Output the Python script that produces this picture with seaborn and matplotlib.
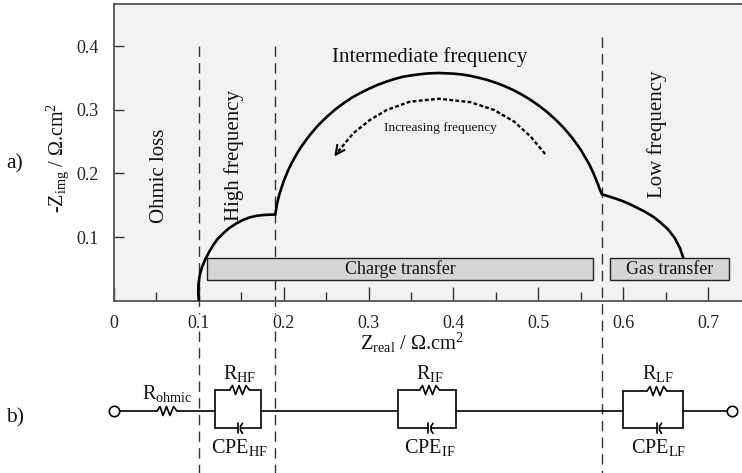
import matplotlib
matplotlib.use('Agg')
import matplotlib.pyplot as plt
import seaborn as sns
import pandas as pd

sns.set_style('white')
plt.rcParams['font.family'] = ['Liberation Serif', 'DejaVu Serif']
plt.rcParams['mathtext.fontset'] = 'custom'
plt.rcParams['mathtext.rm'] = 'Liberation Serif'
plt.rcParams['mathtext.default'] = 'rm'

# Nyquist arcs
hf_x = [0.1, 0.0992, 0.0995, 0.101, 0.1035, 0.1072, 0.112, 0.117, 0.122, 0.1288, 0.136, 0.1445, 0.152, 0.1602,
        0.168, 0.1759, 0.183, 0.19]
hf_y = [0, 0.012, 0.025, 0.04, 0.052, 0.064, 0.0765, 0.0876, 0.097, 0.106, 0.1145, 0.1217, 0.127, 0.1311,
        0.1335, 0.1347, 0.1352, 0.1355]
if_x = [0.19, 0.192, 0.195, 0.2, 0.205, 0.21, 0.215, 0.22, 0.23, 0.24, 0.25, 0.26, 0.27, 0.28, 0.29, 0.3, 0.31,
        0.32, 0.33, 0.34, 0.35, 0.36, 0.37, 0.383, 0.4, 0.41, 0.42, 0.43, 0.44, 0.45, 0.46, 0.47, 0.48, 0.49,
        0.5, 0.51, 0.52, 0.53, 0.54, 0.55, 0.56, 0.565, 0.57, 0.572, 0.575]
if_y = [0.1355, 0.152, 0.168, 0.188, 0.2044, 0.218, 0.23, 0.241, 0.2592, 0.275, 0.2882, 0.3, 0.3099, 0.319, 0.3264,
        0.333, 0.339, 0.344, 0.3483, 0.352, 0.3542, 0.356, 0.3574, 0.358, 0.357, 0.3557, 0.3535, 0.3505, 0.347,
        0.3426, 0.3375, 0.3315, 0.3245, 0.3165, 0.3074, 0.297, 0.2852, 0.2717, 0.2559, 0.2374, 0.2145, 0.2003,
        0.1841, 0.1764, 0.1673]
lf_x = [0.575, 0.59, 0.5985, 0.6058, 0.615, 0.6255, 0.636, 0.645, 0.653, 0.661, 0.664, 0.667, 0.6707]
lf_y = [0.1673, 0.161, 0.157, 0.1531, 0.147, 0.14, 0.1315, 0.1217, 0.112, 0.0981, 0.09, 0.0824, 0.0676]
arrow_x = [0.508, 0.491, 0.4716, 0.448, 0.4205, 0.383, 0.3486, 0.3212, 0.3015, 0.2819, 0.2623]
arrow_y = [0.2307, 0.2579, 0.2815, 0.2998, 0.312, 0.3176, 0.3129, 0.2998, 0.2841, 0.2632, 0.2317]
arrow_tip = (0.2596, 0.2267)

x_ticks = [0, 0.1, 0.2, 0.3, 0.4, 0.5, 0.6, 0.7]
x_minor = [0.05, 0.15, 0.25, 0.35, 0.45, 0.55, 0.65]
x_labels = ['0', '0.1', '0.2', '0.3', '0.4', '0.5', '0.6', '0.7']
y_ticks = [0.1, 0.2, 0.3, 0.4]
y_labels = ['0.1', '0.2', '0.3', '0.4']

dividers = [0.1, 0.19, 0.575]
divider_tops = [0.4, 0.4, 0.414]
box_names = ['Charge transfer', 'Gas transfer']
box_left = [0.11, 0.5846]
box_right = [0.5645, 0.7246]

W, H = 742, 473
fig = plt.figure(figsize=(W / 100, H / 100), dpi=100)
ax = fig.add_axes([114 / W, (H - 300.7) / H, (W - 114) / W, 296.7 / H])
ax.set_facecolor('#f2f2f2')
ax.set_xlim(0, 0.74)
ax.set_ylim(0, 0.4665)

for xs, ys in [(hf_x, hf_y), (if_x, if_y), (lf_x, lf_y)]:
    arc = pd.DataFrame({'x': xs, 'y': ys})
    sns.lineplot(data=arc, x='x', y='y', ax=ax, color='black', lw=1.9, sort=False, estimator=None, zorder=3)

arrow = pd.DataFrame({'x': arrow_x, 'y': arrow_y})
sns.lineplot(data=arrow, x='x', y='y', ax=ax, color='black', lw=1.7, sort=False, estimator=None,
             linestyle=(0, (1.6, 1.0)), zorder=3)
ax.annotate('', xy=arrow_tip, xytext=(arrow_x[-1], arrow_y[-1]),
            arrowprops=dict(arrowstyle='->', color='black', lw=1.5, mutation_scale=16, shrinkA=0, shrinkB=0))

# the two left dividers break around the tick labels
for x, top in zip(dividers, divider_tops):
    if x < 0.5:
        ax.plot([x, x], [top, -0.021], color='#333333', lw=1.0, linestyle=(0, (7.5, 4.5)), clip_on=False, zorder=2)
        ax.plot([x, x], [-0.047, -0.5745], color='#333333', lw=1.0, linestyle=(0, (7.5, 4.5)), clip_on=False, zorder=2)
    else:
        ax.plot([x, x], [top, -0.5745], color='#333333', lw=1.0, linestyle=(0, (7.5, 4.5)), clip_on=False, zorder=2)

for name, left, right in zip(box_names, box_left, box_right):
    ax.barh(0.05, right - left, height=0.0335, left=left, color='#d6d6d6', edgecolor='#222222', lw=1, zorder=4)
    ax.text((left + right) / 2, 0.0495, name, ha='center', va='center', fontsize=12.9, color='#111111', zorder=5)

ax.set_xticks(x_ticks)
ax.set_xticklabels(x_labels, fontsize=13, color='#222222')
ax.set_xticks(x_minor, minor=True)
ax.set_yticks(y_ticks)
ax.set_yticklabels(y_labels, fontsize=13, color='#222222')
ax.tick_params(axis='x', which='major', direction='in', length=10, width=1, color='#333333', pad=10, bottom=True)
ax.tick_params(axis='x', which='minor', direction='in', length=6.5, width=1, color='#333333', bottom=True)
ax.tick_params(axis='y', which='major', direction='in', length=7, width=1, color='#333333', pad=11, left=True)
for side in ['left', 'bottom', 'top']:
    ax.spines[side].set_color('#555555')
    ax.spines[side].set_linewidth(1.3)
ax.spines['right'].set_visible(False)
ax.set_xlabel('')
ax.set_ylabel('')

# overlay in pixel units for the labels and the circuit
ov = fig.add_axes([0, 0, 1, 1], facecolor='none')
ov.set_xlim(0, W)
ov.set_ylim(H, 0)
ov.axis('off')

ov.text(412, 343, r'Z$_{real}$ / Ω.cm$^{2}$', ha='center', va='center', fontsize=14.7, color='#111111')
ov.text(58, 158, r'-Z$_{img}$ / Ω.cm$^{2}$', ha='center', va='center', rotation=90, fontsize=14.5, color='#111111')
ov.text(159, 176, 'Ohmic loss', ha='center', va='center', rotation=90, fontsize=15, color='#111111')
ov.text(234.5, 155, 'High frequency', ha='center', va='center', rotation=90, fontsize=15, color='#111111')
ov.text(657, 134, 'Low frequency', ha='center', va='center', rotation=90, fontsize=15, color='#111111')
ov.text(430, 57, 'Intermediate frequency', ha='center', va='center', fontsize=15, color='#111111')
ov.text(440, 128, 'Increasing frequency', ha='center', va='center', fontsize=9.6, color='#111111')
ov.text(15, 164, 'a)', ha='center', va='center', fontsize=15.5, color='#111111')
ov.text(15, 418, 'b)', ha='center', va='center', fontsize=15.5, color='#111111')

wire_y = 411
zig_dx = [0, 3, 6, 9.5, 13, 16.5, 20]
zig_dy = [0, -4.5, 4.5, -4.5, 4.5, -4.5, 0]


def resistor(x0, x1, y, x_mid_left, x_mid_right):
    ov.plot([x0, x_mid_left], [y, y], color='black', lw=1.2)
    ov.plot([x_mid_left + d for d in zig_dx], [y + d for d in zig_dy], color='black', lw=1.2)
    ov.plot([x_mid_right, x1], [y, y], color='black', lw=1.2)


def capacitor(x0, x1, y, xc):
    ov.plot([x0, xc - 1], [y, y], color='black', lw=1.2)
    ov.plot([xc - 1, xc - 1], [y - 5, y + 5], color='black', lw=1.2)
    ov.plot([xc + 4, xc + 2, xc + 2, xc + 4], [y - 5, y - 2, y + 2, y + 5], color='black', lw=1.2)
    ov.plot([xc + 2, x1], [y, y], color='black', lw=1.2)


def rc_block(left, right, top, bottom, res_x, cap_x):
    resistor(left, right, top, res_x, res_x + 20)
    capacitor(left, right, bottom, cap_x)
    ov.plot([left, left], [top, bottom], color='black', lw=1.2)
    ov.plot([right, right], [top, bottom], color='black', lw=1.2)


resistor(114, 215, wire_y, 157, 177)
rc_block(215, 261.3, 390, 428.3, 229.5, 238.5)
ov.plot([261.3, 398], [wire_y, wire_y], color='black', lw=1.2)
rc_block(398, 455.7, 390, 428.3, 419.5, 429)
ov.plot([455.7, 623], [wire_y, wire_y], color='black', lw=1.2)
rc_block(623, 682.7, 391, 428.3, 647, 657.5)
ov.plot([682.7, 732], [wire_y, wire_y], color='black', lw=1.2)
ov.plot([114, 732.3], [wire_y, wire_y], ls='none', marker='o', ms=7.5, mfc='white', mec='black', mew=1.2, zorder=5)

comp_fs = 14.6
ov.text(167.5, 399, r'R$_{ohmic}$', ha='center', va='baseline', fontsize=comp_fs, color='#111111')
ov.text(240, 379, r'R$_{HF}$', ha='center', va='baseline', fontsize=comp_fs, color='#111111')
ov.text(239, 453, r'CPE$_{HF}$', ha='center', va='baseline', fontsize=comp_fs, color='#111111')
ov.text(430, 379, r'R$_{IF}$', ha='center', va='baseline', fontsize=comp_fs, color='#111111')
ov.text(430, 453, r'CPE$_{IF}$', ha='center', va='baseline', fontsize=comp_fs, color='#111111')
ov.text(657.5, 379, r'R$_{LF}$', ha='center', va='baseline', fontsize=comp_fs, color='#111111')
ov.text(658.5, 453, r'CPE$_{LF}$', ha='center', va='baseline', fontsize=comp_fs, color='#111111')

fig.savefig('out.png', dpi=100)
